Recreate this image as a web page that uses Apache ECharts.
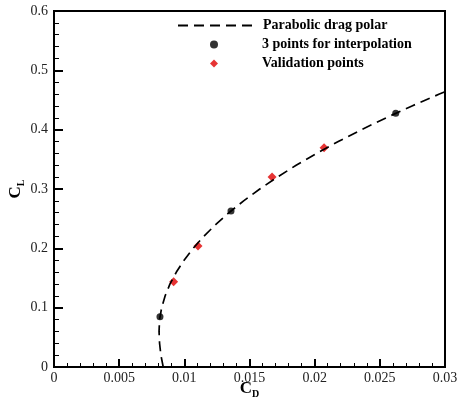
<!DOCTYPE html>
<html><head><meta charset="utf-8">
<script src="https://cdn.jsdelivr.net/npm/echarts@6/dist/echarts.min.js"></script>
<style>html,body{margin:0;padding:0;background:#fff}#c{width:457px;height:408px}</style>
</head><body><div id="c"></div>
<script>
// Parabolic drag polar curve (CL, CD)
var polarCL = [0, 0.02, 0.04, 0.06, 0.08, 0.10, 0.12, 0.14, 0.16, 0.18, 0.20, 0.22, 0.24, 0.26, 0.28, 0.30, 0.32, 0.34, 0.36, 0.38, 0.40, 0.42, 0.44, 0.46, 0.464];
var polarCD = [0.00838, 0.00820, 0.00810, 0.00806, 0.00810, 0.00826, 0.00853, 0.00890, 0.00939, 0.00998, 0.01068, 0.01148, 0.01240, 0.01342, 0.01455, 0.01579, 0.01713, 0.01858, 0.02015, 0.02181, 0.02359, 0.02548, 0.02747, 0.02957, 0.03000];
// 3 points for interpolation
var interpCD = [0.00813, 0.01358, 0.02622];
var interpCL = [0.0848, 0.263, 0.4276];
// Validation points
var valCD = [0.00918, 0.01105, 0.01673, 0.02072];
var valCL = [0.1438, 0.2039, 0.3202, 0.3696];
// Ticks
var xTicks = [0, 0.005, 0.01, 0.015, 0.02, 0.025, 0.03];
var yTicks = [0, 0.1, 0.2, 0.3, 0.4, 0.5, 0.6];
var seriesNames = ['Parabolic drag polar', '3 points for interpolation', 'Validation points'];

function zip(a, b) { return a.map(function (v, i) { return [v, b[i]]; }); }

var FONT = '"Liberation Serif", "Times New Roman", serif';
var chart = echarts.init(document.getElementById('c'), null, { renderer: 'canvas' });
var legendText = { fontFamily: FONT, fontWeight: 'bold', fontSize: 14, color: '#000', lineHeight: 19 };
var axisCommon = {
  type: 'value',
  axisLine: { show: true, lineStyle: { color: '#000', width: 2 } },
  axisTick: { show: true, inside: true, length: 8, lineStyle: { color: '#000', width: 2 } },
  minorTick: { show: true, splitNumber: 5, length: 4, lineStyle: { color: '#000', width: 1 } },
  splitLine: { show: false },
  axisLabel: { color: '#222', fontFamily: FONT, fontSize: 14 }
};
chart.setOption({
  animation: false,
  backgroundColor: '#fff',
  grid: { left: 54, right: 12, top: 11, bottom: 41, outerBoundsMode: 'none', containLabel: false, show: true, borderColor: '#000', borderWidth: 2, backgroundColor: 'transparent' },
  legend: [
    {
      orient: 'vertical', left: 172, top: 11,
      itemWidth: 75, itemHeight: 8, itemGap: 0,
      data: [{ name: seriesNames[0], itemStyle: { opacity: 0 } }],
      textStyle: Object.assign({}, legendText, { padding: [0, 0, 0, 5] })
    },
    {
      orient: 'vertical', left: 205, top: 30,
      itemWidth: 8, itemHeight: 8, itemGap: 0,
      data: [{ name: seriesNames[1], icon: 'circle' }, { name: seriesNames[2], icon: 'diamond' }],
      textStyle: Object.assign({}, legendText, { padding: [0, 0, 0, 39] })
    }
  ],
  xAxis: Object.assign({}, axisCommon, {
    min: xTicks[0], max: xTicks[xTicks.length - 1], interval: xTicks[1] - xTicks[0],
    axisLabel: Object.assign({}, axisCommon.axisLabel, { margin: 4, formatter: function (v) { return String(+v.toFixed(3)); } }),
    name: '{c|C}{s|D}', nameLocation: 'middle', nameGap: 12, nameMoveOverlap: false,
    nameTextStyle: { rich: { c: { fontFamily: FONT, fontWeight: 'bold', fontSize: 17, color: '#000' }, s: { fontFamily: FONT, fontWeight: 'bold', fontSize: 10, color: '#000', padding: [10, 0, 0, 0] } } }
  }),
  yAxis: Object.assign({}, axisCommon, {
    min: yTicks[0], max: yTicks[yTicks.length - 1], interval: yTicks[1] - yTicks[0],
    axisLabel: Object.assign({}, axisCommon.axisLabel, { margin: 6, formatter: function (v) { return String(+v.toFixed(1)); } }),
    axisTick: Object.assign({}, axisCommon.axisTick, { length: 9 }),
    minorTick: Object.assign({}, axisCommon.minorTick, { length: 5 }),
    name: '{c|C}{s|L}', nameLocation: 'middle', nameGap: 28, nameRotate: 90, nameMoveOverlap: false,
    nameTextStyle: { rich: { c: { fontFamily: FONT, fontWeight: 'bold', fontSize: 17, color: '#000' }, s: { fontFamily: FONT, fontWeight: 'bold', fontSize: 10, color: '#000', padding: [10, 0, 0, 0] } } }
  }),
  series: [
    { name: seriesNames[0], type: 'line', data: zip(polarCD, polarCL), symbol: 'none', smooth: false, clip: true,
      lineStyle: { color: '#000', width: 1.7, type: [10, 6] }, itemStyle: { color: '#000' } },
    { name: seriesNames[1], type: 'scatter', data: zip(interpCD, interpCL), symbol: 'circle', symbolSize: 7,
      itemStyle: { color: '#000' } },
    { name: seriesNames[2], type: 'scatter', data: zip(valCD, valCL), symbol: 'diamond', symbolSize: 9,
      itemStyle: { color: '#e00000' } }
  ]
});
</script></body></html>
